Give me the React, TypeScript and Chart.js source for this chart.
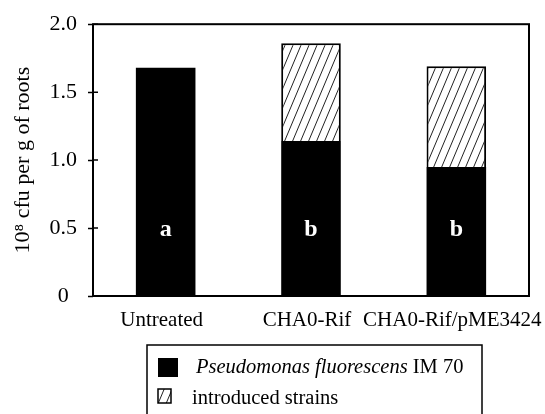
import React, { useEffect, useRef } from 'react';
import { Chart, registerables } from 'chart.js';

Chart.register(...registerables);

const categories = ['Untreated', 'CHA0-Rif', 'CHA0-Rif/pME3424'];
const indigenousValues = [1.68, 1.14, 0.95];
const introducedValues: (number | null)[] = [null, 0.72, 0.74];
const groupLetters = ['a', 'b', 'b'];
const yTickValues = [0, 0.5, 1.0, 1.5, 2.0];
const seriesNames = ['Pseudomonas fluorescens IM 70', 'introduced strains'];
const legendItalic = ['Pseudomonas fluorescens', ''];
const legendRoman = ['IM 70', 'introduced strains'];
const yTitle = '10⁸ cfu per g of roots';

const FONT = "'Liberation Serif', 'Times New Roman', serif";

function makeHatch(): CanvasPattern | string {
  const w = 8;
  const h = 19;
  const c = document.createElement('canvas');
  c.width = w;
  c.height = h;
  const g = c.getContext('2d');
  if (!g) return '#fff';
  g.fillStyle = '#fff';
  g.fillRect(0, 0, w, h);
  g.strokeStyle = '#222';
  g.lineWidth = 1;
  g.beginPath();
  for (const dx of [-w, 0, w]) {
    g.moveTo(dx, h);
    g.lineTo(dx + w, 0);
  }
  g.stroke();
  const p = g.createPattern(c, 'repeat');
  return p || '#fff';
}

export default function App() {
  const ref = useRef<HTMLCanvasElement | null>(null);

  useEffect(() => {
    if (!ref.current) return;
    const hatch = makeHatch();

    const decorPlugin = {
      id: 'decor',
      afterDatasetsDraw(chart: any) {
        const { ctx, chartArea } = chart;
        const y = chart.scales.y;
        const x = chart.scales.x;
        ctx.save();
        ctx.strokeStyle = '#000';
        ctx.lineWidth = 2;
        ctx.strokeRect(chartArea.left, chartArea.top, chartArea.right - chartArea.left, chartArea.bottom - chartArea.top);
        ctx.lineWidth = 1.5;
        ctx.beginPath();
        for (const v of yTickValues) {
          const py = y.getPixelForValue(v);
          ctx.moveTo(chartArea.left, py);
          ctx.lineTo(chartArea.left + 5, py);
        }
        ctx.stroke();
        ctx.fillStyle = '#fff';
        ctx.font = `bold 24px ${FONT}`;
        ctx.textAlign = 'center';
        ctx.textBaseline = 'alphabetic';
        groupLetters.forEach((l, i) => {
          ctx.fillText(l, x.getPixelForValue(i), y.getPixelForValue(0.5) + 8);
        });
        ctx.restore();
      },
      afterDraw(chart: any) {
        const { ctx } = chart;
        ctx.save();
        ctx.strokeStyle = '#000';
        ctx.lineWidth = 1.5;
        ctx.strokeRect(147, 345, 335, 90);
        ctx.fillStyle = '#000';
        ctx.fillRect(158, 358, 20, 19);
        ctx.textAlign = 'left';
        ctx.textBaseline = 'alphabetic';
        ctx.font = `italic 20.5px ${FONT}`;
        ctx.fillText(legendItalic[0], 196, 373);
        const w1 = ctx.measureText(legendItalic[0] + ' ').width;
        ctx.font = `20.5px ${FONT}`;
        ctx.fillText(legendRoman[0], 196 + w1, 373);
        ctx.fillStyle = hatch as any;
        ctx.fillRect(158, 389, 13, 14);
        ctx.lineWidth = 1.5;
        ctx.strokeRect(158, 389, 13, 14);
        ctx.fillStyle = '#000';
        ctx.font = `20.5px ${FONT}`;
        ctx.fillText(legendRoman[1], 192, 404);
        ctx.restore();
      },
    };

    const chart = new Chart(ref.current, {
      type: 'bar',
      data: {
        labels: categories,
        datasets: [
          {
            label: seriesNames[0],
            data: indigenousValues,
            backgroundColor: '#000',
            borderColor: '#000',
            borderWidth: 0,
            barPercentage: 0.41,
            categoryPercentage: 1,
          },
          {
            label: seriesNames[1],
            data: introducedValues,
            backgroundColor: hatch as any,
            borderColor: '#000',
            borderWidth: 2,
            barPercentage: 0.41,
            categoryPercentage: 1,
          },
        ],
      },
      options: {
        responsive: false,
        animation: false,
        layout: { padding: { left: 0, right: 16, top: 18, bottom: 0 } },
        plugins: {
          legend: { display: false },
          tooltip: { enabled: false },
        },
        scales: {
          x: {
            stacked: true,
            grid: { display: false, drawTicks: false },
            border: { display: false },
            ticks: {
              autoSkip: false,
              maxRotation: 0,
              minRotation: 0,
              padding: 12,
              labelOffset: -4,
              color: '#000',
              font: { family: FONT, size: 21 },
            },
            afterFit(s: any) {
              s.height = 118;
              s.paddingRight = 0;
              s.paddingLeft = 0;
            },
          },
          y: {
            stacked: true,
            min: 0,
            max: 2,
            grid: {
              display: true,
              drawOnChartArea: false,
              drawTicks: true,
              tickLength: 5,
              tickWidth: 1.5,
              tickColor: '#000',
              color: '#000',
            },
            border: { display: false },
            afterBuildTicks(s: any) {
              s.ticks = yTickValues.map((v) => ({ value: v }));
            },
            ticks: {
              crossAlign: 'center',
              padding: 11,
              color: '#000',
              font: { family: FONT, size: 22 },
              callback: (v: any) => (Number(v) === 0 ? '0' : Number(v).toFixed(1)),
            },
            title: {
              display: true,
              text: yTitle,
              color: '#000',
              font: { family: FONT, size: 22 },
              padding: { top: 10, bottom: 0 },
            },
            afterFit(s: any) {
              s.width = 93;
            },
          },
        },
      },
      plugins: [decorPlugin],
    } as any);

    return () => chart.destroy();
  }, []);

  return (
    <div style={{ position: 'absolute', left: 0, top: 0, width: 545, height: 414, background: '#fff' }}>
      <canvas ref={ref} width={545} height={414} />
    </div>
  );
}
